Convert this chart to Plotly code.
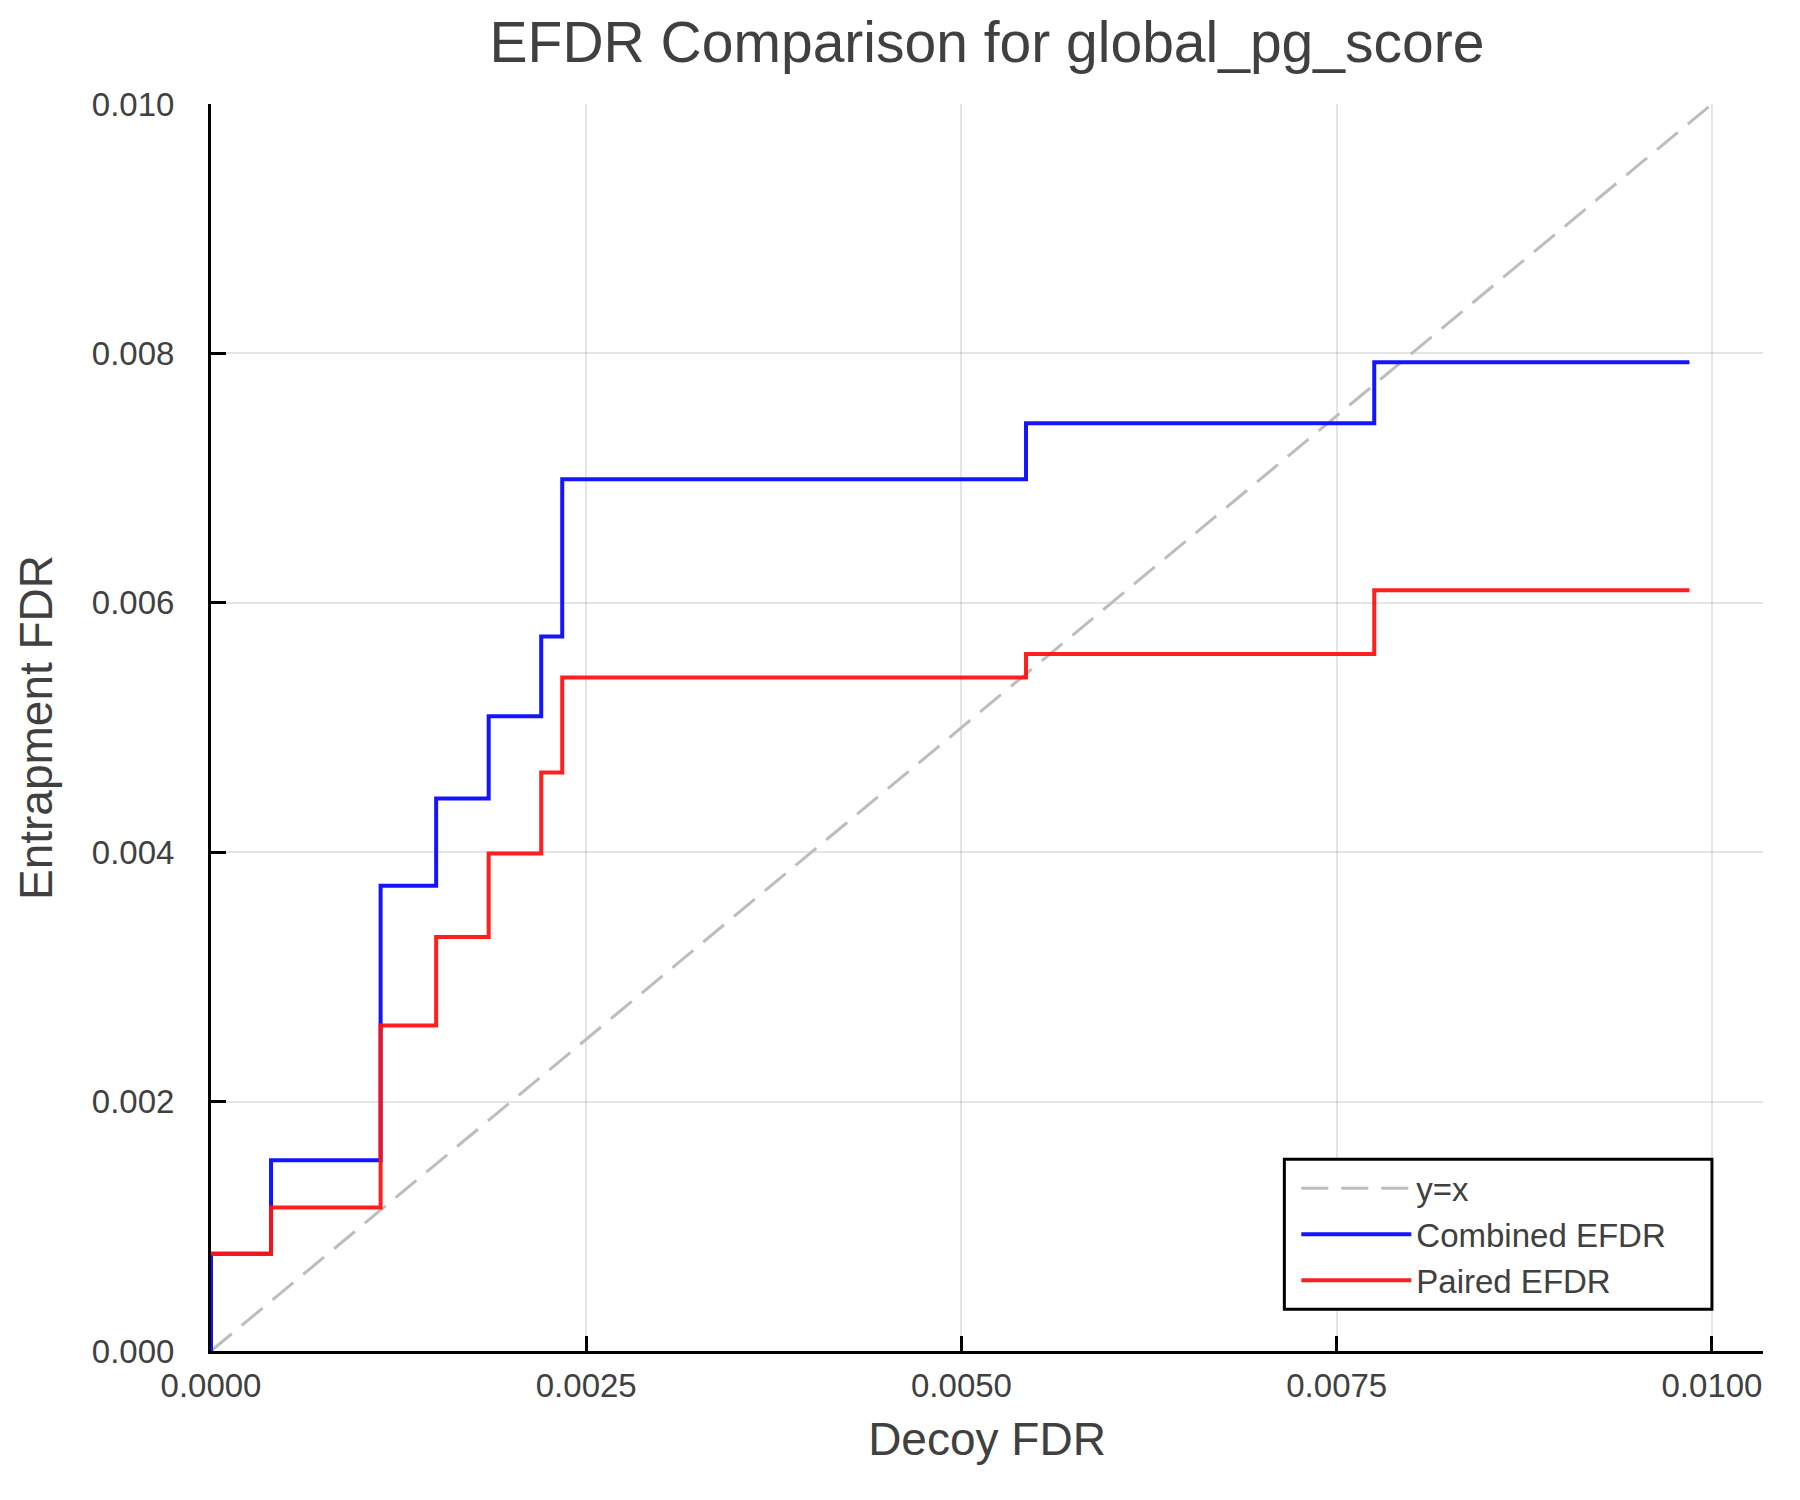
import plotly.graph_objects as go

# step data
decoy_fdr = [0.0, 0.00040, 0.00113, 0.00150, 0.00185, 0.00220, 0.00234, 0.00543, 0.00775, 0.00985]
combined_efdr = [0.00078, 0.00153, 0.00373, 0.00443, 0.00509, 0.00573, 0.00699, 0.00744, 0.00793, 0.00793]
paired_efdr = [0.00078, 0.00115, 0.00261, 0.00332, 0.00399, 0.00464, 0.00540, 0.00559, 0.00610, 0.00610]

diag = [0.0, 0.01]
x_ticks = [0.0, 0.0025, 0.005, 0.0075, 0.01]
y_ticks = [0.0, 0.002, 0.004, 0.006, 0.008, 0.010]

FONT = "Liberation Sans"
TXT = "#404040"

fig = go.Figure()

fig.add_trace(go.Scatter(
    x=diag, y=diag, mode="lines", name="y=x",
    line=dict(color="#bdbdbd", width=3, dash="27px,13px"),
))
fig.add_trace(go.Scatter(
    x=[0.0] + decoy_fdr, y=[0.0] + combined_efdr, mode="lines", name="Combined EFDR",
    line=dict(color="rgb(20,20,255)", width=4, shape="hv"),
))
fig.add_trace(go.Scatter(
    x=decoy_fdr, y=paired_efdr, mode="lines", name="Paired EFDR",
    line=dict(color="rgb(255,20,20)", width=4, shape="hv"),
    opacity=0.95,
))

axis_common = dict(
    showline=True, linecolor="black", linewidth=3,
    ticks="inside", ticklen=15, tickwidth=3, tickcolor="black",
    showgrid=True, gridcolor="rgba(0,0,0,0.1)", gridwidth=1.5,
    zeroline=False, mirror=False,
    tickfont=dict(family=FONT, size=33, color=TXT),
)

# legend frame; its right edge sits on x = 0.01
fig.add_shape(
    type="rect", xref="paper", yref="paper",
    x0=0.6916, x1=0.9671, y0=0.0334, y1=0.1537,
    line=dict(color="black", width=3), fillcolor="white", layer="above",
)

fig.update_layout(
    width=1800, height=1500,
    paper_bgcolor="white", plot_bgcolor="white",
    margin=dict(l=203, r=45, t=96, b=157),
    title=dict(
        text="EFDR Comparison for global_pg_score",
        font=dict(family=FONT, size=57, color=TXT),
        x=0.5, xref="paper", xanchor="center",
        y=1 - 34 / 1500, yref="container", yanchor="middle",
    ),
    xaxis=dict(
        axis_common, range=[0, 0.01034], tickvals=x_ticks, tickformat=".4f",
        ticklabelstandoff=3,
        title=dict(text="Decoy FDR", font=dict(family=FONT, size=46, color=TXT), standoff=21),
    ),
    yaxis=dict(
        axis_common, range=[0, 0.010], tickvals=y_ticks, tickformat=".3f",
        ticklabelstandoff=27,
        title=dict(text="Entrapment FDR", font=dict(family=FONT, size=46, color=TXT), standoff=25),
    ),
    legend=dict(
        x=0.6993, y=0.0935, xanchor="left", yanchor="middle",
        bgcolor="rgba(0,0,0,0)", borderwidth=0,
        font=dict(family=FONT, size=33, color=TXT),
        itemwidth=110,
    ),
    showlegend=True,
)

fig.write_html("out.html")
